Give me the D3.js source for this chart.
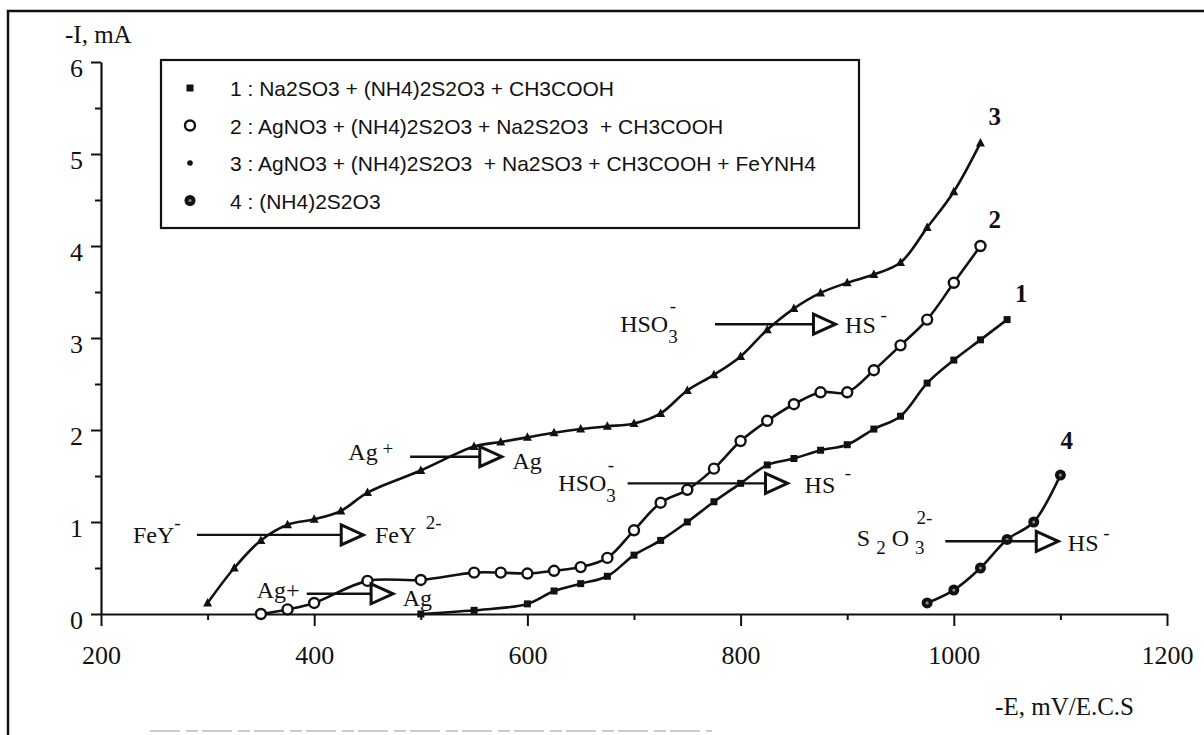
<!DOCTYPE html>
<html>
<head>
<meta charset="utf-8">
<script src="https://cdn.jsdelivr.net/npm/d3@7"></script>
<style>
body { margin: 0; background: #fff; }
svg { display: block; }
</style>
</head>
<body>
<script>
// potential -E (mV/E.C.S) and current -I (mA) for each curve
var e1 = [500, 550, 600, 625, 650, 675, 700, 725, 750, 775, 800, 825, 850, 875, 900, 925, 950, 975, 1000, 1025, 1050];
var i1 = [0.0, 0.04, 0.11, 0.25, 0.33, 0.41, 0.64, 0.8, 1.0, 1.22, 1.42, 1.62, 1.69, 1.78, 1.84, 2.01, 2.15, 2.51, 2.76, 2.98, 3.2];

var e2 = [350, 375, 400, 450, 500, 550, 575, 600, 625, 650, 675, 700, 725, 750, 775, 800, 825, 850, 875, 900, 925, 950, 975, 1000, 1025];
var i2 = [0.0, 0.05, 0.12, 0.36, 0.37, 0.45, 0.45, 0.44, 0.47, 0.51, 0.61, 0.91, 1.21, 1.35, 1.58, 1.88, 2.1, 2.28, 2.41, 2.41, 2.65, 2.92, 3.2, 3.6, 4.0];

var e3 = [300, 325, 350, 375, 400, 425, 450, 500, 550, 575, 600, 625, 650, 675, 700, 725, 750, 775, 800, 825, 850, 875, 900, 925, 950, 975, 1000, 1025];
var i3 = [0.12, 0.5, 0.8, 0.97, 1.03, 1.12, 1.32, 1.56, 1.82, 1.87, 1.92, 1.97, 2.01, 2.04, 2.07, 2.18, 2.43, 2.6, 2.8, 3.09, 3.32, 3.49, 3.6, 3.69, 3.82, 4.2, 4.59, 5.12];

var e4 = [975, 1000, 1025, 1050, 1075, 1100];
var i4 = [0.12, 0.26, 0.5, 0.81, 1.0, 1.51];

var legendLabels = [
	'1 : Na2SO3 + (NH4)2S2O3 + CH3COOH',
	'2 : AgNO3 + (NH4)2S2O3 + Na2S2O3  + CH3COOH',
	'3 : AgNO3 + (NH4)2S2O3  + Na2SO3 + CH3COOH + FeYNH4',
	'4 : (NH4)2S2O3'
];
var curveNames = ['1', '2', '3', '4'];

var xMajor = [200, 400, 600, 800, 1000, 1200];
var xMinor = [300, 500, 700, 900, 1100];
var yMajor = [0, 1, 2, 3, 4, 5, 6];
var yMinor = [0.5, 1.5, 2.5, 3.5, 4.5, 5.5];

// reaction arrows: start E, end E, level I
var arrowE0 = [290, 490, 393, 694, 776, 992];
var arrowE1 = [446, 576, 474, 844, 889, 1098];
var arrowI = [0.86, 1.71, 0.22, 1.42, 3.15, 0.79];

function main(){
	var serif = '"Liberation Serif", "Times New Roman", serif';
	var sans = '"Liberation Sans", Arial, sans-serif';

	svg = d3.select('body').append('svg').attr('width', 1204).attr('height', 735);
	svg.append('rect').attr('width', 1204).attr('height', 735).attr('fill', '#fff');

	// scanned page frame
	svg.append('path').attr('d', 'M8,735V11H1204')
		.attr('fill', 'none').attr('stroke', '#111').attr('stroke-width', 2.5);
	svg.append('line').attr('x1', 150).attr('x2', 712).attr('y1', 731).attr('y2', 731)
		.attr('stroke', '#bbb').attr('stroke-width', 1.5).attr('stroke-dasharray', '30,6,12,4');

	x = d3.scaleLinear().domain([200, 1200]).range([101, 1167]);
	y = d3.scaleLinear().domain([0, 6]).range([614, 62]);

	// axes
	var gy = svg.append('g').attr('transform', 'translate(101,0)')
		.call(d3.axisLeft(y).tickValues(yMajor).tickSize(10).tickSizeOuter(0).tickPadding(8).tickFormat(d3.format('d')));
	svg.append('g').attr('transform', 'translate(101,0)')
		.call(d3.axisLeft(y).tickValues(yMinor).tickSize(6).tickFormat(''))
		.select('.domain').remove();
	var gx = svg.append('g').attr('transform', 'translate(0,614)')
		.call(d3.axisBottom(x).tickValues(xMajor).tickSize(12).tickSizeOuter(0).tickPadding(20).tickFormat(d3.format('d')));
	svg.append('g').attr('transform', 'translate(0,614)')
		.call(d3.axisBottom(x).tickValues(xMinor).tickSize(6).tickFormat(''))
		.select('.domain').remove();

	svg.selectAll('.domain').attr('stroke', '#111').attr('stroke-width', 2.2);
	svg.selectAll('.tick line').attr('stroke', '#111').attr('stroke-width', 2);
	gy.selectAll('.tick text').attr('font-family', serif).attr('font-size', 26).attr('dy', '0.55em').attr('fill', '#111');
	gx.selectAll('.tick text').attr('font-family', serif).attr('font-size', 26).attr('fill', '#111');

	svg.append('text').attr('x', 65).attr('y', 43).attr('font-family', serif).attr('font-size', 25)
		.attr('fill', '#111').text('-I, mA');
	svg.append('text').attr('x', 1134).attr('y', 715).attr('text-anchor', 'end').attr('font-family', serif)
		.attr('font-size', 25).attr('fill', '#111').text('-E, mV/E.C.S');

	// curves
	var line = d3.line()
		.x(function(d){ return x(d[0]); })
		.y(function(d){ return y(d[1]); })
		.curve(d3.curveCatmullRom.alpha(0.5));

	var series = [
		{ e: e1, i: i1, mark: 'square' },
		{ e: e2, i: i2, mark: 'circle' },
		{ e: e3, i: i3, mark: 'triangle' },
		{ e: e4, i: i4, mark: 'dot' }
	];

	series.forEach(function(s, k){
		var pts = s.e.map(function(v, j){ return [v, s.i[j]]; });
		svg.append('path').datum(pts).attr('d', line)
			.attr('fill', 'none').attr('stroke', '#111').attr('stroke-width', 2.6);
		var g = svg.append('g');
		pts.forEach(function(p){
			drawMark(g, s.mark, x(p[0]), y(p[1]));
		});
		var last = pts[pts.length - 1];
		var lx = x(last[0]) + (k == 3 ? 0 : 8);
		var ly = y(last[1]) + (k == 3 ? -26 : -18);
		svg.append('text').attr('x', lx).attr('y', ly).attr('font-family', serif)
			.attr('font-weight', 'bold').attr('font-size', 25).attr('fill', '#111').text(curveNames[k]);
	});

	// legend
	var lg = svg.append('g');
	lg.append('rect').attr('x', 161).attr('y', 60).attr('width', 698).attr('height', 168)
		.attr('fill', '#fff').attr('stroke', '#111').attr('stroke-width', 2.2);
	legendLabels.forEach(function(t, k){
		var ry = 88 + k * 37.5;
		drawMark(lg, ['square', 'circle', 'legendDot', 'dot'][k], 190, ry);
		lg.append('text').attr('x', 230).attr('y', ry + 8).attr('font-family', sans)
			.attr('font-size', 21).attr('fill', '#111').style('white-space', 'pre').text(t);
	});

	// reaction arrows
	arrowI.forEach(function(v, k){
		var x0 = x(arrowE0[k]), x1 = x(arrowE1[k]), yy = y(v);
		svg.append('line').attr('x1', x0).attr('x2', x1 - 22).attr('y1', yy).attr('y2', yy)
			.attr('stroke', '#111').attr('stroke-width', 2.4);
		svg.append('path').attr('d', 'M' + (x1 - 22) + ',' + (yy - 10) + 'L' + x1 + ',' + yy + 'L' + (x1 - 22) + ',' + (yy + 10) + 'Z')
			.attr('fill', '#fff').attr('stroke', '#111').attr('stroke-width', 3).attr('stroke-linejoin', 'miter');
	});

	// reaction labels
	chem(x(230), y(0.86) + 8, [['FeY'], ['-', -14]]);
	chem(x(457), y(0.86) + 8, [['FeY'], ['  2-', -14]]);
	chem(x(432), y(1.71) + 3, [['Ag'], [' +', -5]]);
	chem(x(586), y(1.71) + 12, [['Ag']]);
	chem(x(346), y(0.22) + 4, [['Ag+']]);
	chem(x(483), y(0.22) + 12, [['Ag']]);
	chem(x(629), y(1.42) + 8, [['HSO'], ['3', 11, 0], ['-', -20, -8]]);
	chem(x(860), y(1.42) + 10, [['HS'], ['  -', -14]]);
	chem(x(687), y(3.15) + 8, [['HSO'], ['3', 11, 0], ['-', -20, -8]]);
	chem(x(898), y(3.15) + 9, [['HS'], [' -', -12]]);
	chem(x(909), y(0.79) + 5, [['S '], ['2', 8, 0], [' O '], ['3', 8, 0], ['2-', -22, -8]]);
	chem(x(1107), y(0.79) + 10, [['HS'], [' -', -12]]);

	function chem(px, py, parts){
		var t = svg.append('text').attr('x', px).attr('y', py).attr('font-family', serif)
			.attr('font-size', 24).attr('fill', '#111');
		var shift = 0;
		parts.forEach(function(p){
			var s = t.append('tspan').text(p[0]);
			if (p.length > 1) {
				s.attr('font-size', 19).attr('dy', p[1] - shift);
				if (p[2]) s.attr('dx', p[2]);
				shift = p[1];
			} else if (shift != 0) {
				s.attr('dy', -shift);
				shift = 0;
			}
		});
		t.style('white-space', 'pre');
	}
}

function drawMark(g, type, cx, cy){
	if (type == 'square') {
		g.append('rect').attr('x', cx - 3.5).attr('y', cy - 3.5).attr('width', 7).attr('height', 7).attr('fill', '#111');
	} else if (type == 'circle') {
		g.append('circle').attr('cx', cx).attr('cy', cy).attr('r', 5).attr('fill', '#fff')
			.attr('stroke', '#111').attr('stroke-width', 2.4);
	} else if (type == 'triangle') {
		g.append('path').attr('d', 'M' + cx + ',' + (cy - 5) + 'L' + (cx + 4.5) + ',' + (cy + 3.5) + 'L' + (cx - 4.5) + ',' + (cy + 3.5) + 'Z')
			.attr('fill', '#111');
	} else if (type == 'legendDot') {
		g.append('circle').attr('cx', cx).attr('cy', cy).attr('r', 2.8).attr('fill', '#111');
	} else {
		g.append('circle').attr('cx', cx).attr('cy', cy).attr('r', 5.5).attr('fill', '#111');
		g.append('circle').attr('cx', cx).attr('cy', cy).attr('r', 1.6).attr('fill', '#888');
	}
}

main();
</script>
</body>
</html>
